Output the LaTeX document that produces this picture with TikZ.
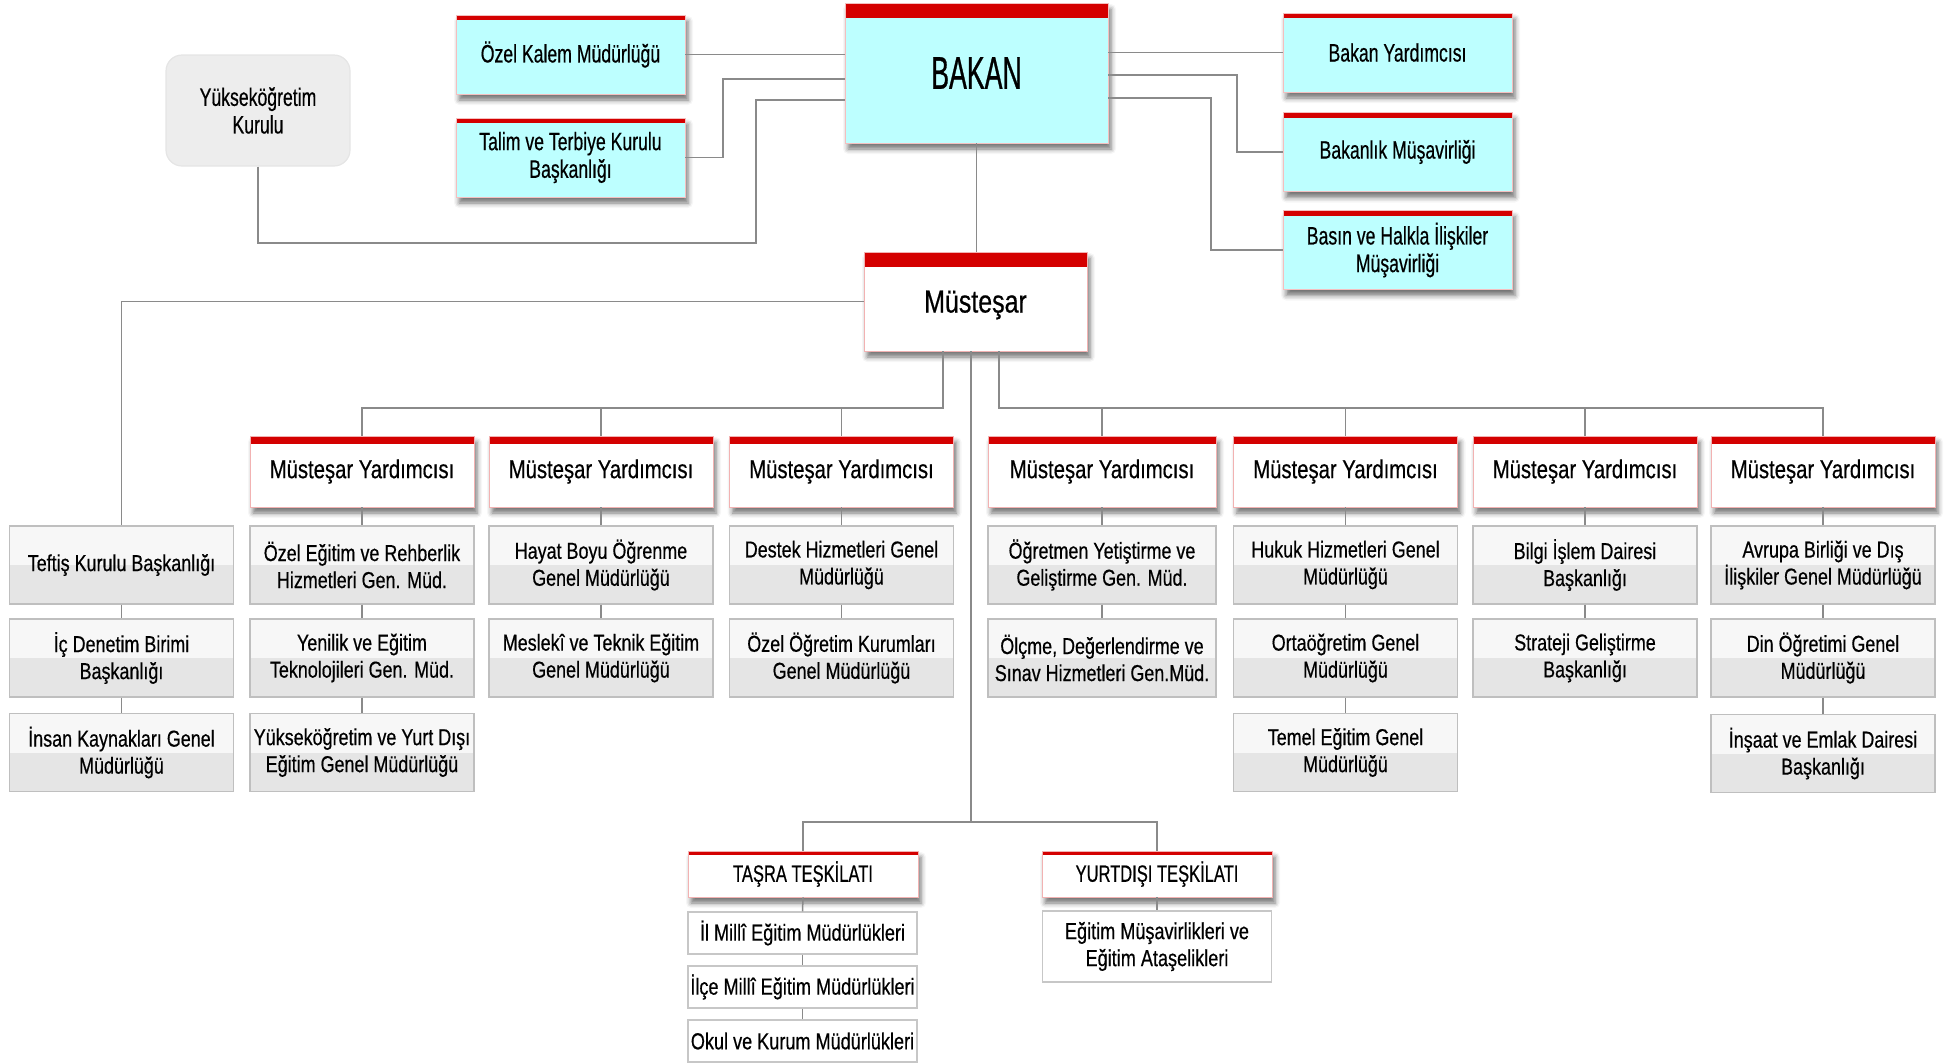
\documentclass[tikz,border=0pt]{standalone}
\usepackage{fontspec}
\setmainfont{Liberation Sans}
\newfontfamily\fA[FakeStretch=0.78,FakeBold=0.5]{Liberation Sans}
\newfontfamily\fB[FakeStretch=0.70,FakeBold=0.5]{Liberation Sans}
\newfontfamily\fC[FakeStretch=0.58,FakeBold=0.6]{Liberation Sans}
\usetikzlibrary{shadows.blur}
\definecolor{barred}{HTML}{D40000}
\definecolor{cyanfill}{HTML}{BDFFFF}
\definecolor{linegray}{HTML}{8A8A8A}
\begin{document}
\begin{tikzpicture}[x=0.5pt,y=-0.5pt,
 conn/.style={draw=linegray, line width=0.75pt},
 shd/.style={blur shadow={shadow xshift=1.5pt,shadow yshift=-3pt,shadow blur radius=2.5pt,shadow opacity=55}},
 box/.style={rectangle, inner sep=0pt, align=center, text=black},
 redbar/.style={path picture={\fill[barred] (path picture bounding box.north west) rectangle ([yshift=-#1]path picture bounding box.north east);}},
 topbox/.style={box, shd, fill=cyanfill, draw=barred!25, line width=0.4pt, minimum width=114.5pt, minimum height=39.5pt, redbar=2.5pt, font=\fB\fontsize{12.6}{13.8}\selectfont},
 yokbox/.style={box, rounded corners=8pt, fill=black!7, draw=black!10, line width=0.6pt, minimum width=92pt, minimum height=55.5pt, font=\fB\fontsize{12.6}{13.8}\selectfont},
 mybox/.style={box, shd, fill=white, draw=barred!30, line width=0.4pt, minimum width=112pt, minimum height=35.5pt, redbar=4pt, font=\fA\fontsize{13}{14}\selectfont},
 subbox/.style={box, draw=black!25, line width=0.7pt, minimum width=112pt, minimum height=39pt, font=\fA\fontsize{11.5}{13.5}\selectfont,
   path picture={\fill[black!3] (path picture bounding box.north west) rectangle (path picture bounding box.east);
                 \fill[black!10] (path picture bounding box.west) rectangle (path picture bounding box.south east);}},
 tbox/.style={box, shd, fill=white, draw=barred!30, line width=0.4pt, minimum width=115pt, minimum height=23pt, redbar=2pt, font=\fB\fontsize{11.8}{13}\selectfont},
 tsub/.style={box, fill=white, draw=black!22, line width=0.7pt, minimum width=114.5pt, minimum height=21pt, font=\fA\fontsize{11.6}{13.5}\selectfont}
]
\useasboundingbox (0,0) rectangle (1952,1062);

% top level
\node[yokbox] (yok) at (258,110.5) {Yükseköğretim\\Kurulu};
\node[topbox] (ozel) at (570.5,54.5) {Özel Kalem Müdürlüğü};
\node[topbox] (talim) at (570.5,157.5) {Talim ve Terbiye Kurulu\\Başkanlığı};
\node[topbox, minimum width=131.5pt, minimum height=70pt, redbar=7.5pt, font=\fC\fontsize{23}{24}\selectfont] (bakan) at (976.5,73) {BAKAN};
\node[topbox] (byard) at (1397.5,52.5) {Bakan Yardımcısı};
\node[topbox] (bmus) at (1397.5,152) {Bakanlık Müşavirliği};
\node[topbox] (basin) at (1397.5,250) {Basın ve Halkla İlişkiler\\Müşavirliği};
\node[mybox, minimum width=111.5pt, minimum height=49.5pt, redbar=7.5pt, font=\fA\fontsize{16}{17}\selectfont, text depth=-3pt] (must) at (975.5,301.5) {Müsteşar};

% Müsteşar Yardımcıları
\node[mybox] (my1) at (362,471.5) {Müsteşar Yardımcısı};
\node[mybox] (my2) at (601,471.5) {Müsteşar Yardımcısı};
\node[mybox] (my3) at (841.5,471.5) {Müsteşar Yardımcısı};
\node[mybox, minimum width=114pt] (my4) at (1102,471.5) {Müsteşar Yardımcısı};
\node[mybox] (my5) at (1345.5,471.5) {Müsteşar Yardımcısı};
\node[mybox] (my6) at (1585,471.5) {Müsteşar Yardımcısı};
\node[mybox] (my7) at (1823,471.5) {Müsteşar Yardımcısı};

% column 0
\node[subbox] (teftis) at (121.5,565) {Teftiş Kurulu Başkanlığı};
\node[subbox] (icden) at (121.5,658) {İç Denetim Birimi\\Başkanlığı};
\node[subbox] (insan) at (121.5,752.5) {İnsan Kaynakları Genel\\Müdürlüğü};
% column 1
\node[subbox] (ozegt) at (362,565) {Özel Eğitim ve Rehberlik\\Hizmetleri Gen. Müd.};
\node[subbox] (yenilik) at (362,658) {Yenilik ve Eğitim\\Teknolojileri Gen. Müd.};
\node[subbox] (yukyd) at (362,752.5) {Yükseköğretim ve Yurt Dışı\\Eğitim Genel Müdürlüğü};
% column 2
\node[subbox] (hayat) at (601,565) {Hayat Boyu Öğrenme\\Genel Müdürlüğü};
\node[subbox] (mesleki) at (601,658) {Meslekî ve Teknik Eğitim\\Genel Müdürlüğü};
% column 3
\node[subbox] (destek) at (841.5,565) {Destek Hizmetleri Genel\\Müdürlüğü};
\node[subbox] (ozogr) at (841.5,658) {Özel Öğretim Kurumları\\Genel Müdürlüğü};
% column 4
\node[subbox, minimum width=114pt] (ogretmen) at (1102,565) {Öğretmen Yetiştirme ve\\Geliştirme Gen. Müd.};
\node[subbox, minimum width=114pt] (olcme) at (1102,658) {Ölçme, Değerlendirme ve\\Sınav Hizmetleri Gen.Müd.};
% column 5
\node[subbox] (hukuk) at (1345.5,565) {Hukuk Hizmetleri Genel\\Müdürlüğü};
\node[subbox] (orta) at (1345.5,658) {Ortaöğretim Genel\\Müdürlüğü};
\node[subbox] (temel) at (1345.5,752.5) {Temel Eğitim Genel\\Müdürlüğü};
% column 6
\node[subbox] (bilgi) at (1585,565) {Bilgi İşlem Dairesi\\Başkanlığı};
\node[subbox] (strateji) at (1585,658) {Strateji Geliştirme\\Başkanlığı};
% column 7
\node[subbox] (avrupa) at (1823,565) {Avrupa Birliği ve Dış\\İlişkiler Genel Müdürlüğü};
\node[subbox] (din) at (1823,658) {Din Öğretimi Genel\\Müdürlüğü};
\node[subbox] (insaat) at (1823,753.5) {İnşaat ve Emlak Dairesi\\Başkanlığı};

% bottom
\node[tbox] (tasra) at (803,874) {TAŞRA TEŞKİLATI};
\node[tbox] (yurt) at (1157,874) {YURTDIŞI TEŞKİLATI};
\node[tsub] (il) at (802.5,933) {İl Millî Eğitim Müdürlükleri};
\node[tsub] (ilce) at (802.5,987) {İlçe Millî Eğitim Müdürlükleri};
\node[tsub] (okul) at (802.5,1041) {Okul ve Kurum Müdürlükleri};
\node[tsub, minimum height=35.5pt] (egitim) at (1157,946.5) {Eğitim Müşavirlikleri ve\\Eğitim Ataşelikleri};

% connectors top
\draw[conn] (ozel.east) -- (ozel.east -| bakan.west);
\draw[conn] (talim.east) -| (723,79) -- (bakan.west |- 0,79);
\draw[conn] (yok.south) |- (756,243) |- (bakan.west |- 0,100);
\draw[conn] (bakan.east |- byard.west) -- (byard.west);
\draw[conn] (bakan.east |- 0,75) -| (1237,152) -- (bmus.west);
\draw[conn] (bakan.east |- 0,98) -| (1211,250) -- (basin.west);
\draw[conn] (bakan.south) -- (bakan.south |- must.north);
\draw[conn] (must.west) -| (teftis.north);

% buses
\draw[conn] (943,0 |- must.south) |- (my1.north |- 0,408) -- (my1.north);
\draw[conn] (my2.north) -- (my2.north |- 0,408);
\draw[conn] (my3.north) -- (my3.north |- 0,408);
\draw[conn] (999,0 |- must.south) |- (my7.north |- 0,408) -- (my7.north);
\draw[conn] (my4.north) -- (my4.north |- 0,408);
\draw[conn] (my5.north) -- (my5.north |- 0,408);
\draw[conn] (my6.north) -- (my6.north |- 0,408);
\draw[conn] (971,0 |- must.south) -- (971,822);
\draw[conn] (tasra.north) |- (yurt.north |- 0,822) -- (yurt.north);

% column chains
\foreach \a/\b in {teftis/icden, icden/insan,
  my1/ozegt, ozegt/yenilik, yenilik/yukyd,
  my2/hayat, hayat/mesleki,
  my3/destek, destek/ozogr,
  my4/ogretmen, ogretmen/olcme,
  my5/hukuk, hukuk/orta, orta/temel,
  my6/bilgi, bilgi/strateji,
  my7/avrupa, avrupa/din, din/insaat,
  tasra/il, il/ilce, ilce/okul, yurt/egitim}
  \draw[conn] (\a.south) -- (\b.north);
\end{tikzpicture}
\end{document}
